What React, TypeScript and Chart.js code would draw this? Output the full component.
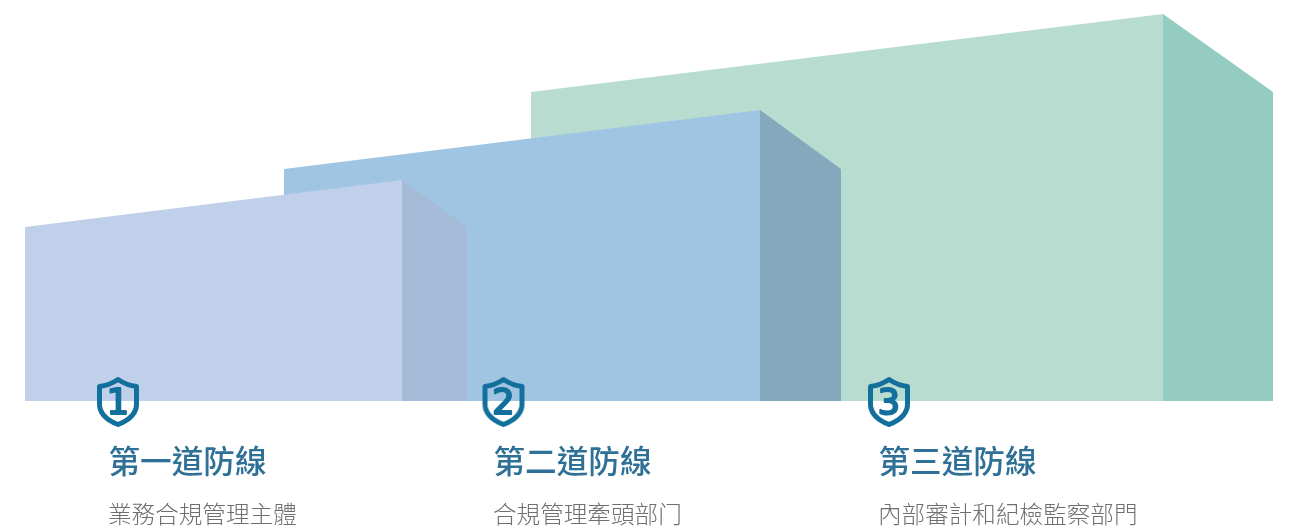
import React, { useEffect, useRef } from "react";
import { Chart, registerables } from "chart.js";

Chart.register(...registerables);

// Data, in chart units: x along the floor, height above the floor
const lineTitles = ["第一道防線", "第二道防線", "第三道防線"];
const lineOwners = ["業務合規管理主體", "合規管理牽頭部门", "內部審計和紀檢監察部門"];
const lineNumbers = ["1", "2", "3"];
const frontStartX = [25, 284, 531];
const ridgeX = [402, 760, 1163];
const sideEndX = [467, 841, 1273];
const frontStartHeight = [174, 232, 309];
const ridgeHeight = [221, 291, 387];
const badgeX = [118, 503.5, 889];
const badgeHeight = [-1, -1, -1];
const captionX = [109, 494, 879];

const frontColors = ["#c1d0ea", "#9fc5e3", "#b8ddd0"];
const sideColors = ["#a6bbd8", "#86a8bd", "#94ccc1"];
const ink = "#136f9b";
const titleInk = "#2f7097";
const ownerInk = "#6f6f6f";
const CJK = '"Noto Sans CJK TC", "Noto Sans CJK SC", sans-serif';

function makeShield(): HTMLCanvasElement {
  const c = document.createElement("canvas");
  c.width = 52;
  c.height = 60;
  const g = c.getContext("2d")!;
  g.translate(26, 30);
  g.strokeStyle = ink;
  g.lineWidth = 5;
  g.lineJoin = "round";
  g.beginPath();
  g.moveTo(0, -22.5);
  g.quadraticCurveTo(9, -16.5, 18.5, -15.5);
  g.lineTo(18.5, 2);
  g.bezierCurveTo(18.5, 13, 9, 19, 0, 22.5);
  g.bezierCurveTo(-9, 19, -18.5, 13, -18.5, 2);
  g.lineTo(-18.5, -15.5);
  g.quadraticCurveTo(-9, -16.5, 0, -22.5);
  g.closePath();
  g.stroke();
  return c;
}

const captions = {
  id: "captions",
  afterDatasetsDraw(chart: any) {
    const { ctx, scales } = chart;
    ctx.save();
    ctx.textBaseline = "alphabetic";
    lineTitles.forEach((t, i) => {
      const px = scales.x.getPixelForValue(captionX[i]);
      const nx = scales.x.getPixelForValue(badgeX[i]);
      const ny = scales.y.getPixelForValue(-13);
      ctx.textAlign = "center";
      ctx.fillStyle = ink;
      ctx.strokeStyle = ink;
      ctx.lineWidth = 2.2;
      ctx.lineJoin = "round";
      ctx.font = '35px "DejaVu Sans"';
      ctx.fillText(lineNumbers[i], nx, ny);
      ctx.strokeText(lineNumbers[i], nx, ny);
      ctx.textAlign = "left";
      ctx.fillStyle = titleInk;
      ctx.font = `500 31.6px ${CJK}`;
      ctx.fillText(t, px - 0.5, scales.y.getPixelForValue(-72));
      ctx.fillStyle = ownerInk;
      ctx.font = `300 23.6px ${CJK}`;
      ctx.fillText(lineOwners[i], px - 1, scales.y.getPixelForValue(-122));
    });
    ctx.restore();
  },
};

export default function App() {
  const ref = useRef<HTMLCanvasElement>(null);
  useEffect(() => {
    const datasets: any[] = [];
    lineTitles.forEach((t, i) => {
      const common = { showLine: true, pointRadius: 0, borderWidth: 0, fill: "origin", tension: 0 };
      datasets.push({
        ...common,
        label: `${t} side`,
        order: (i + 1) * 10 + 1,
        data: [
          { x: ridgeX[i], y: ridgeHeight[i] },
          { x: sideEndX[i], y: frontStartHeight[i] },
        ],
        backgroundColor: sideColors[i],
        borderColor: sideColors[i],
      });
      datasets.push({
        ...common,
        label: t,
        order: (i + 1) * 10,
        data: [
          { x: frontStartX[i], y: frontStartHeight[i] },
          { x: ridgeX[i], y: ridgeHeight[i] },
        ],
        backgroundColor: frontColors[i],
        borderColor: frontColors[i],
      });
    });
    datasets.push({
      label: "badges",
      order: 1,
      showLine: false,
      pointStyle: makeShield(),
      pointRadius: 20,
      data: badgeX.map((x, i) => ({ x, y: badgeHeight[i] })),
    });
    const chart = new Chart(ref.current!, {
      type: "scatter",
      data: { datasets },
      options: {
        animation: false,
        responsive: false,
        layout: { padding: 0, autoPadding: false },
        plugins: { legend: { display: false }, tooltip: { enabled: false } },
        scales: {
          x: { type: "linear", min: 0, max: 1294, display: false },
          y: { type: "linear", min: -126, max: 401, display: false },
        },
      },
      plugins: [captions],
    } as any);
    return () => chart.destroy();
  }, []);
  return (
    <div style={{ position: "absolute", left: 0, top: 0, width: 1294, height: 527, background: "#fff", overflow: "hidden" }}>
      <canvas ref={ref} width={1294} height={527} style={{ display: "block" }} />
    </div>
  );
}
